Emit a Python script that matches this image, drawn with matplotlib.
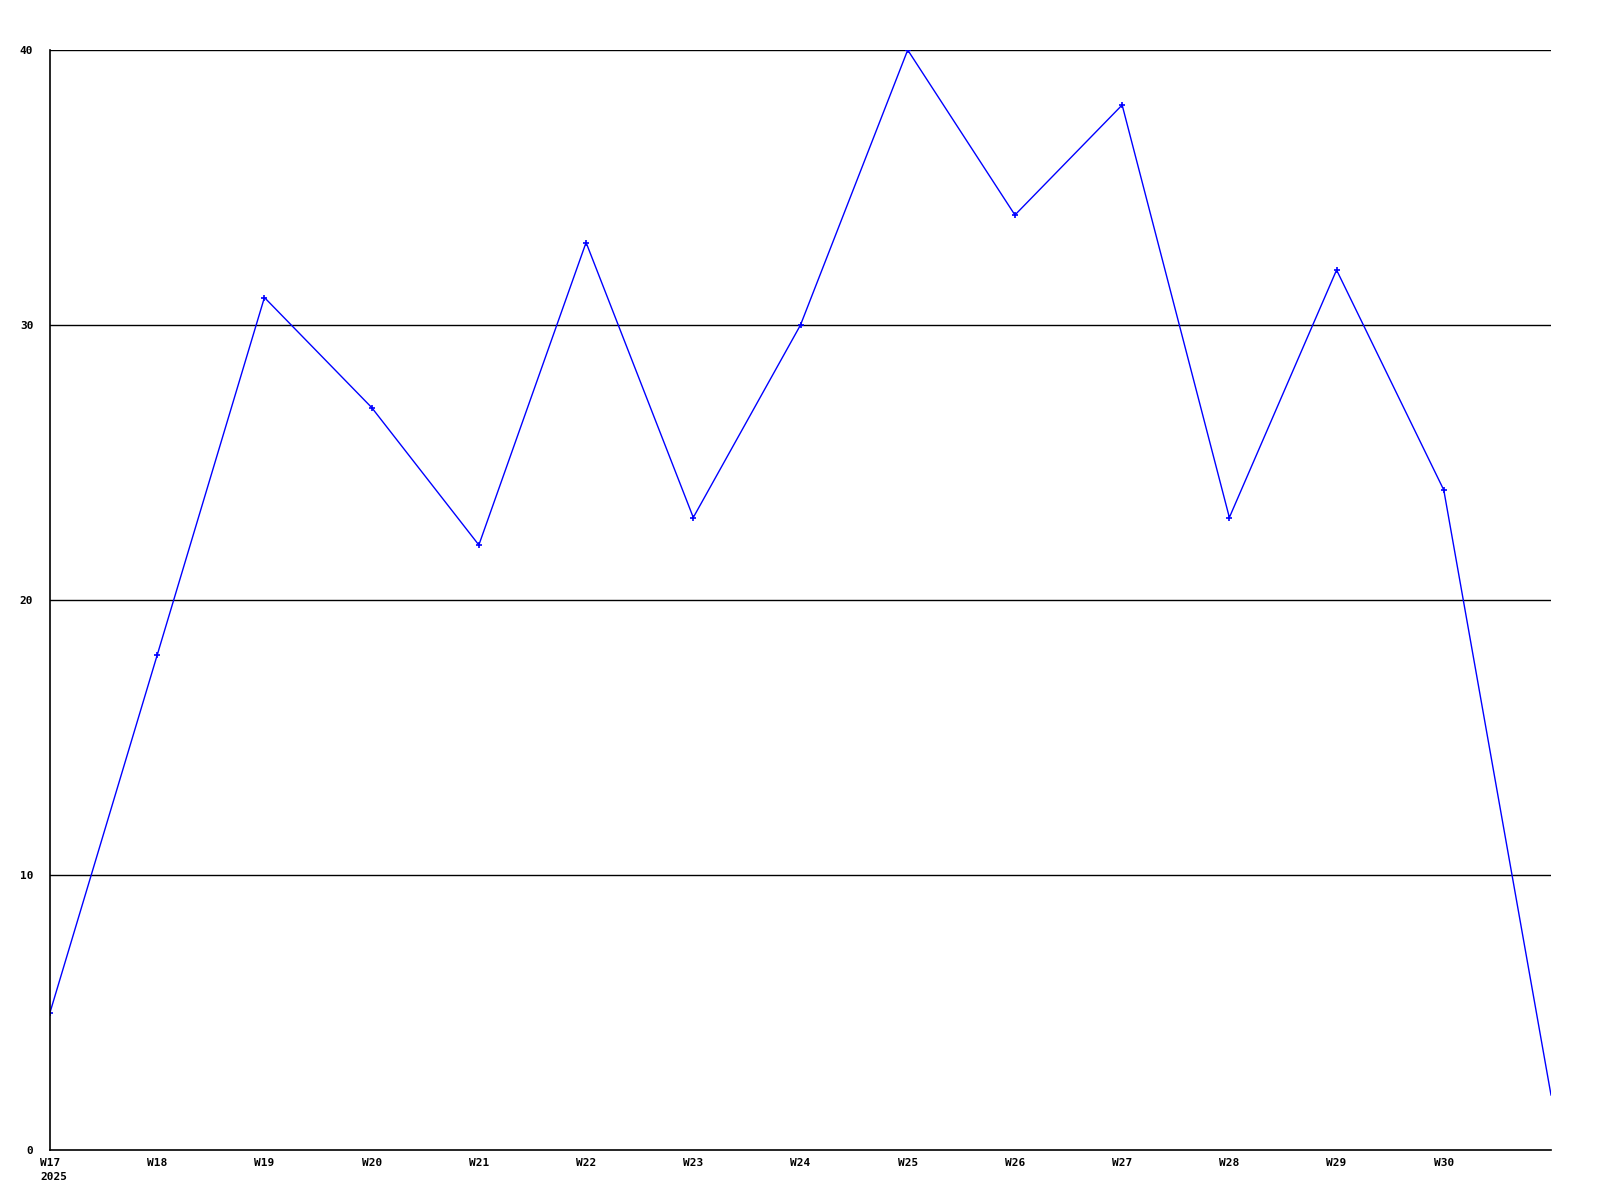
import matplotlib
matplotlib.use('Agg')
import matplotlib.pyplot as plt

# weekly counts, last point has no label
weeks = ['W17', 'W18', 'W19', 'W20', 'W21', 'W22', 'W23', 'W24',
         'W25', 'W26', 'W27', 'W28', 'W29', 'W30', '']
values = [5, 18, 31, 27, 22, 33, 23, 30, 40, 34, 38, 23, 32, 24, 2]
y_ticks = [0, 10, 20, 30, 40]
year = '2025'

fig = plt.figure(figsize=(16, 12), dpi=100)
ax = fig.add_axes([50 / 1600, 50 / 1200, 1501 / 1600, 1100 / 1200])

x = list(range(len(values)))
ax.plot(x, values, color='#0000ff', linewidth=1, marker='+', markersize=4,
        markeredgewidth=1.2, markevery=list(range(len(values) - 1)))

ax.set_xlim(0, len(values) - 1)
ax.set_ylim(0, 40)
ax.set_yticks(y_ticks)
ax.set_yticklabels([str(v) for v in y_ticks])
ax.set_xticks(x)
ax.set_xticklabels(weeks)

for v in y_ticks[1:]:
    ax.axhline(v, color='black', linewidth=1, zorder=0)

for lab in ax.get_xticklabels() + ax.get_yticklabels():
    lab.set_fontfamily('DejaVu Sans Mono')
    lab.set_fontweight('bold')
    lab.set_fontsize(8)

# year under the first week label, left aligned with it
ax.annotate(year, xy=(0, 0), xycoords=('data', 'axes fraction'),
            xytext=(-7.2, -16), textcoords='offset points',
            ha='left', va='top', fontfamily='DejaVu Sans Mono',
            fontweight='bold', fontsize=8)

ax.tick_params(length=0, pad=6)
ax.tick_params(axis='y', pad=12)
ax.spines['top'].set_visible(False)
ax.spines['right'].set_visible(False)
ax.spines['left'].set_linewidth(1.2)
ax.spines['bottom'].set_linewidth(1.2)

fig.savefig('out.png', dpi=100)
